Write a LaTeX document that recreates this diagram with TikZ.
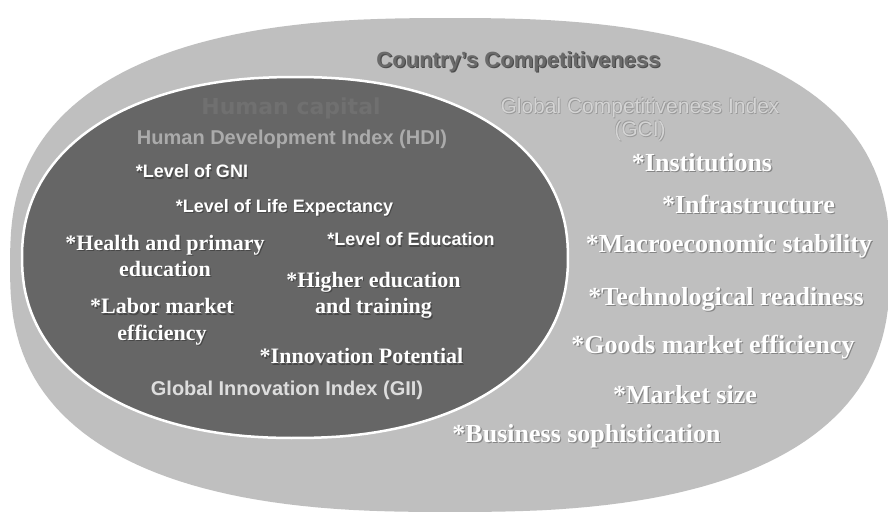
\documentclass[tikz,border=0pt]{standalone}
\usepackage{fontspec}
\setmainfont{Liberation Serif}
\newfontfamily\arialf{Liberation Sans}
\newfontfamily\dejavuf{DejaVu Sans}
\definecolor{outerfill}{HTML}{BFBFBF}
\definecolor{innerfill}{HTML}{666666}
\definecolor{titlec}{HTML}{6A6A6A}
\definecolor{hcapc}{HTML}{707070}
\definecolor{hdic}{HTML}{ABABAB}
\definecolor{giic}{HTML}{DDDDDD}
\definecolor{gcilight}{HTML}{D4D4D4}
\definecolor{gcidark}{HTML}{9A9A9A}
\definecolor{shadowdark}{HTML}{474747}
\definecolor{shadowmid}{HTML}{858585}
\newcommand\shd[2]{\makebox[0pt][l]{\hspace{1.2pt}\raisebox{-1.2pt}{\textcolor{#1}{#2}}}#2}
\newcommand\emb[1]{\makebox[0pt][l]{\hspace{0.8pt}\raisebox{-0.8pt}{\textcolor{gcidark}{#1}}}\makebox[0pt][l]{\hspace{-0.5pt}\raisebox{0.5pt}{\textcolor{gcidark}{#1}}}\textcolor{gcilight}{#1}}
\begin{document}
\begin{tikzpicture}[x=1pt,y=-1pt,
  every node/.style={inner sep=0pt, align=center},
  titletext/.style={text=titlec, font=\arialf\bfseries\fontsize{22}{26}\selectfont},
  hcaptext/.style={text=hcapc, font=\dejavuf\bfseries\fontsize{22}{26}\selectfont},
  indextext/.style={font=\arialf\bfseries\fontsize{20}{24}\selectfont},
  gcitext/.style={font=\arialf\fontsize{21}{23}\selectfont},
  sansitem/.style={text=white, font=\arialf\bfseries\fontsize{18}{22}\selectfont},
  serifitem/.style={text=white, font=\bfseries\fontsize{22}{26.5}\selectfont},
  rightitem/.style={text=white, font=\bfseries\fontsize{26}{30}\selectfont}
]
\useasboundingbox (0,0) rectangle (888,512);
\fill[white] (0,0) rectangle (888,512);
% outer shape (superellipse)
\fill[outerfill] plot[domain=0.5:360.5, samples=181]
  ({450+440*pow(abs(cos(\x)),0.784)*cos(\x)/abs(cos(\x))},
   {265+247*pow(abs(sin(\x)),0.784)*sin(\x)/abs(sin(\x))}) -- cycle;
% inner shape
\filldraw[fill=innerfill, draw=white, line width=2.5pt] plot[domain=0.5:360.5, samples=181]
  ({295+273*pow(abs(cos(\x)),0.909)*cos(\x)/abs(cos(\x))},
   {257.5+180.5*pow(abs(sin(\x)),0.909)*sin(\x)/abs(sin(\x))}) -- cycle;

\node[titletext] (title) at (518.5,62) {\shd{gray!60!black}{Country’s Competitiveness}};
\node[hcaptext] (hcap) at (291,108) {Human capital};
\node[indextext, text=hdic] (hdi) at (292,139) {Human Development Index (HDI)};
\node[gcitext] (gci) at (640,119.5) {\emb{Global Competitiveness Index}\\ \emb{(GCI)}};

\node[sansitem] (gni) at (192,172) {\shd{shadowdark}{*Level of GNI}};
\node[sansitem] (life) at (284.5,208) {\shd{shadowdark}{*Level of Life Expectancy}};
\node[sansitem] (edu) at (411,240) {\shd{shadowdark}{*Level of Education}};
\node[serifitem] (health) at (165,256.5) {\shd{shadowdark}{*Health and primary}\\ \shd{shadowdark}{education}};
\node[serifitem] (higher) at (373.5,296) {\shd{shadowdark}{*Higher education}\\ \shd{shadowdark}{and training}};
\node[serifitem] (labor) at (162,322.5) {\shd{shadowdark}{*Labor market}\\ \shd{shadowdark}{efficiency}};
\node[serifitem] (innov) at (361.5,357) {\shd{shadowdark}{*Innovation Potential}};
\node[indextext, text=giic] (gii) at (287,390) {Global Innovation Index (GII)};

\node[rightitem] (inst) at (702,163) {\shd{shadowmid}{*Institutions}};
\node[rightitem] (infra) at (748.5,205) {\shd{shadowmid}{*Infrastructure}};
\node[rightitem] (macro) at (729,247) {\shd{shadowmid}{*Macroeconomic stability}};
\node[rightitem] (tech) at (726,300) {\shd{shadowmid}{*Technological readiness}};
\node[rightitem] (goods) at (713,348) {\shd{shadowmid}{*Goods market efficiency}};
\node[rightitem] (msize) at (685,395) {\shd{shadowmid}{*Market size}};
\node[rightitem] (bus) at (586.5,437) {\shd{shadowmid}{*Business sophistication}};
\end{tikzpicture}
\end{document}
